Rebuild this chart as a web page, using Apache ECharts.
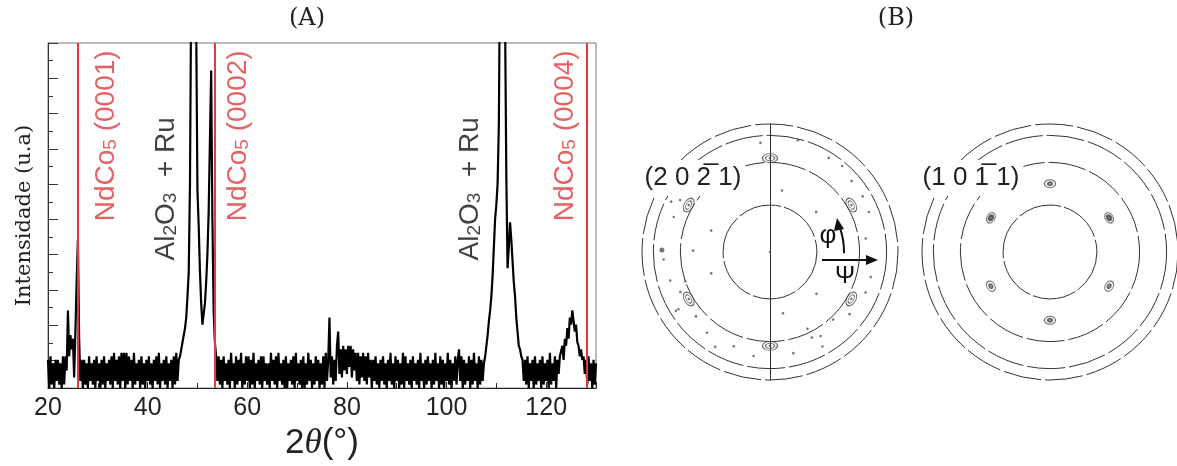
<!DOCTYPE html>
<html><head><meta charset="utf-8">
<script src="https://cdn.jsdelivr.net/npm/echarts@6/dist/echarts.min.js"></script>
<style>html,body{margin:0;padding:0;background:#fff}#c{width:1177px;height:466px}</style>
</head><body><div id="c"></div>
<script>
// ================= DATA =================
// Panel A : XRD pattern, intensity sampled every 0.25 deg from 20 deg
const ANGLE_START = 20;
const ANGLE_STEP = 0.25;
const I_20 = [8,0,9,1, 7,0,8,2, 8,1,7,0, 9,1,9,5, 22,9,15,11, 14,3,16,30, 42,14,2,8, 0,8,1,7, 0,9,2,7, 1,8,0,9];
const I_30 = [2,7,0,8, 1,9,0,7, 2,8,1,9, 0,10,2,8, 1,9,0,10, 2,10,0,10, 1,9,2,8, 0,10,1,7, 2,8,0,9, 1,7,0,8];
const I_40 = [2,9,1,7, 0,8,2,9, 1,10,0,7, 2,8,1,9, 0,7,2,8, 0,9,1,10, 2,8,9,11, 13,15,17,20, 26,33,58,115, 160,170,150,102];
const I_50 = [56,46,33,24, 18,18,24,30, 38,50,70,90, 48,22,13,9, 2,9,1,8, 0,9,2,7, 1,8,0,10, 2,7,0,9, 1,8,2,10, 0,7,1,9];
const I_60 = [2,9,0,8, 1,10,0,7, 2,8,1,9, 0,9,2,7, 1,7,0,10, 2,8,1,9, 0,10,2,7, 1,8,0,9, 0,7,2,8, 1,9,0,10];
const I_70 = [2,7,1,8, 0,9,0,7, 1,10,2,8, 0,7,1,9, 2,8,0,7, 1,9,0,10, 2,8,20,3, 9,1,8,2, 12,16,4,11, 3,12,5,11];
const I_80 = [4,12,6,12, 3,11,5,10, 2,10,1,9, 3,10,2,9, 1,10,3,8, 0,8,2,9, 1,7,0,8, 2,9,1,7, 0,8,2,10, 1,7,0,9];
const I_90 = [2,8,0,7, 1,10,0,9, 2,7,1,8, 0,9,2,7, 1,8,0,10, 2,7,0,8, 1,9,2,7, 0,8,1,10, 2,7,0,9, 1,8,0,7];
const I_100 = [2,10,1,8, 0,7,2,9, 1,8,11,2, 9,0,8,1, 7,2,9,0, 8,1,10,2, 7,0,9,1, 8,2,7,9, 12,15,19,22, 26,32,40,48];
const I_110 = [52,58,75,125, 160,150,125,104, 60,34,40,47, 42,36,30,26, 20,16,12,11, 9,8,2,8, 1,9,0,7, 2,8,0,9, 1,7,2,8, 0,9,1,7];
const I_120 = [2,8,0,10, 1,7,2,9, 0,8,4,9, 9,12,8,14, 12,17,14,20, 18,22,19,16, 18,13,12,9, 11,8,9,4, 8,1,9,2, 7,0,8,1, 7];

const X_MIN = 20, X_MAX = 130, X_INTERVAL = 20;
const Y_MIN = 0, Y_MAX = 97.8, Y_TICK = 10;

// NdCo5 reflections (red lines)
const PHASE_POS = [26.0, 53.4, 128.2];
const PHASE_HKL = ['(0001)', '(0002)', '(0004)'];
// Substrate peaks label
const SUBSTRATE_LABEL_POS = [43.8, 104.8];

// Panel B : pole figures (psi, phi)
const RING_PSI = [33, 63, 82, 90];
const PSI_MAX = 90;
const SPOTS_2021 = [[66,90],[66,30],[66,330],[66,270],[66,210],[66,150]];
const SPOTS_1011 = [[48,90],[48,30],[48,330],[48,270],[48,210],[48,150]];
const DOTS_2021 = [[77,95],[81,76],[78,58],[79,50],[76,41],[76,31],[75,22],[68,8],[73,346],[73,337],
  [71,322],[65,313],[69,301],[67,296],[76,299],[73,283],[74,261],[71,249],[77,240],[72,232],[69,221],
  [76,212],[73,196],[75,184],[72,160],[73,150],[54,179],[44,200],[44,160],[44,282],[44,318],[43,41],
  [44,79],[63,199],[69,204],[78,212],[60,296],[78,153],[0,0]];
const BIG_DOTS_2021 = [[76,179]];

// ================= LAYOUT =================
const GRID_A = {left: 48, right: 581, top: 43, bottom: 73};
const PF_CENTERS = [[770, 252], [1050, 252]];
const PF_RADIUS = 128;
const FIG_LABELS = ['(2 0 2\u0305 1)', '(1 0 1\u0305 1)'];
const LABEL_FONT = '"Liberation Sans", Arial, sans-serif';

const INTENSITY = [].concat(I_20, I_30, I_40, I_50, I_60, I_70, I_80, I_90, I_100, I_110, I_120);
const lineData = INTENSITY.map((v, i) => [ANGLE_START + i * ANGLE_STEP, v]);

const chart = echarts.init(document.getElementById('c'));

// polar systems: rings for each pole figure + 2 half-diameters for the left one
const polar = [], angleAxis = [], radiusAxis = [];
function addPolar(center, radiusPx, rMax, startAngle, showCircle, showRadius, dash) {
  const idx = polar.length;
  polar.push({center: center, radius: radiusPx});
  angleAxis.push({
    polarIndex: idx, type: 'value', min: 0, max: 360, startAngle: startAngle, clockwise: false,
    axisLine: {show: showCircle, lineStyle: {color: '#333', width: 1, type: dash}},
    axisTick: {show: false}, axisLabel: {show: false}, splitLine: {show: false}
  });
  radiusAxis.push({
    polarIndex: idx, type: 'value', min: 0, max: rMax,
    axisLine: {show: showRadius, lineStyle: {color: '#333', width: 1}},
    axisTick: {show: false}, axisLabel: {show: false}, splitLine: {show: false}
  });
  return idx;
}
const outerIdx = [];
PF_CENTERS.forEach((c) => {
  RING_PSI.forEach((psi, k) => {
    const i = addPolar(c, PF_RADIUS * psi / PSI_MAX, psi, 0, true, false, k === 0 ? [44, 3] : [38, 4]);
    if (k === RING_PSI.length - 1) outerIdx.push(i);
  });
});
addPolar(PF_CENTERS[0], PF_RADIUS, PSI_MAX, 90, false, true, 'solid');
addPolar(PF_CENTERS[0], PF_RADIUS, PSI_MAX, 270, false, true, 'solid');

function spotSeries(pIdx, data, size, extra) {
  return Object.assign({
    type: 'scatter', coordinateSystem: 'polar', polarIndex: pIdx, data: data,
    symbol: 'circle', symbolSize: size, symbolRotate: (v) => v[1] - 90,
    itemStyle: {color: 'rgba(255,255,255,0)', borderColor: '#444', borderWidth: 1},
    silent: true, z: 4
  }, extra || {});
}

const redText = {fontFamily: LABEL_FONT, fontSize: 28, color: '#e03a3c'};
const redSub = {fontFamily: LABEL_FONT, fontSize: 19, color: '#e03a3c', verticalAlign: 'bottom', lineHeight: 16};
const blkText = {fontFamily: LABEL_FONT, fontSize: 28, color: '#111'};
const blkSub = {fontFamily: LABEL_FONT, fontSize: 19, color: '#111', verticalAlign: 'bottom', lineHeight: 16};

const annot = [];
const RED_LABEL_X = [31.6, 58.2, 123.8];
PHASE_HKL.forEach((h, i) => annot.push({
  value: [RED_LABEL_X[i], 71.5],
  label: {formatter: '{m|NdCo}{s|5}{m| ' + h + '}'}
}));
SUBSTRATE_LABEL_POS.forEach((x) => annot.push({
  value: [x, 56.5],
  label: {formatter: '{k|Al}{t|2}{k|O}{t|3}{k|  + Ru}'}
}));

const titleStyle = {font: '24px "DejaVu Serif"', fill: '#222', align: 'center', verticalAlign: 'middle', textAlign: 'center', textVerticalAlign: 'middle'};

const option = {
  animation: false,
  backgroundColor: '#fff',
  grid: [Object.assign({show: true, borderColor: '#777', borderWidth: 1}, GRID_A)],
  xAxis: [{
    type: 'value', gridIndex: 0, min: X_MIN, max: X_MAX, interval: X_INTERVAL,
    axisLine: {lineStyle: {color: '#222', width: 1}},
    axisTick: {inside: true, length: 6, lineStyle: {color: '#222'}},
    minorTick: {show: true, splitNumber: 2, length: 5, lineStyle: {color: '#222'}},
    axisLabel: {fontFamily: LABEL_FONT, fontSize: 25, color: '#222', margin: 8, showMaxLabel: false},
    splitLine: {show: false},
    name: '{n|2}{t|\u03b8}{n|(\u00b0)}', nameLocation: 'middle', nameGap: 33,
    nameTextStyle: {rich: {
      n: {fontFamily: LABEL_FONT, fontSize: 35, color: '#222'},
      t: {fontFamily: '"Liberation Serif", serif', fontStyle: 'italic', fontSize: 35, color: '#222'}
    }}
  }],
  yAxis: [
    {type: 'value', gridIndex: 0, min: Y_MIN, max: Y_MAX, show: false},
    {type: 'value', gridIndex: 0, min: Y_MIN, max: Y_MAX, interval: Y_TICK, inverse: true, position: 'left',
      axisLine: {show: true, lineStyle: {color: '#333', width: 1}},
      axisTick: {show: true, inside: true, length: 10, lineStyle: {color: '#333'}},
      minorTick: {show: true, splitNumber: 2, length: 5, lineStyle: {color: '#333'}},
      axisLabel: {show: false}, splitLine: {show: false},
      name: 'Intensidade (u.a)', nameLocation: 'middle', nameGap: 13,
      nameTextStyle: {fontFamily: '"DejaVu Serif", serif', fontSize: 21, color: '#222'}
    }
  ],
  polar: polar, angleAxis: angleAxis, radiusAxis: radiusAxis,
  series: [
    {
      type: 'line', xAxisIndex: 0, yAxisIndex: 0, data: lineData, showSymbol: false, symbol: 'none',
      lineStyle: {color: '#000', width: 2.2}, clip: true, z: 2, silent: true,
      markLine: {
        silent: true, symbol: ['none', 'none'], z: 5,
        label: {show: false},
        lineStyle: {color: '#e03a3c', width: 2, type: 'solid'},
        data: PHASE_POS.map((x) => ({xAxis: x}))
      }
    },
    {
      type: 'scatter', xAxisIndex: 0, yAxisIndex: 0, symbolSize: 0, data: annot, z: 6, silent: true,
      label: {show: true, position: 'inside', rotate: 90,
        rich: {m: redText, s: redSub, k: blkText, t: blkSub}}
    },
    spotSeries(outerIdx[0], SPOTS_2021, [15, 9]),
    spotSeries(outerIdx[0], SPOTS_2021, [9, 5]),
    spotSeries(outerIdx[0], SPOTS_2021, [3, 2], {itemStyle: {color: '#444'}}),
    spotSeries(outerIdx[1], SPOTS_1011, [11, 8]),
    spotSeries(outerIdx[1], SPOTS_1011, [5, 4], {itemStyle: {color: '#666', borderColor: '#444', borderWidth: 1}}),
    {type: 'scatter', coordinateSystem: 'polar', polarIndex: outerIdx[0], data: DOTS_2021,
      symbolSize: 2.6, itemStyle: {color: '#555'}, silent: true, z: 4},
    {type: 'scatter', coordinateSystem: 'polar', polarIndex: outerIdx[0], data: BIG_DOTS_2021,
      symbolSize: 5, itemStyle: {color: '#555'}, silent: true, z: 4}
  ],
  graphic: [
    {type: 'text', x: 307, y: 19, z: 100, style: Object.assign({text: '(A)'}, titleStyle)},
    {type: 'text', x: 896, y: 19, z: 100, style: Object.assign({text: '(B)'}, titleStyle)},
    {type: 'text', x: PF_CENTERS[0][0] - 77, y: PF_CENTERS[0][1] - 74, z: 100, style: {text: FIG_LABELS[0], font: '26px ' + LABEL_FONT, fill: '#222', align: 'center', verticalAlign: 'middle', textAlign: 'center', textVerticalAlign: 'middle', backgroundColor: '#fff', padding: [5, 4]}},
    {type: 'text', x: PF_CENTERS[1][0] - 79, y: PF_CENTERS[1][1] - 74, z: 100, style: {text: FIG_LABELS[1], font: '26px ' + LABEL_FONT, fill: '#222', align: 'center', verticalAlign: 'middle', textAlign: 'center', textVerticalAlign: 'middle', backgroundColor: '#fff', padding: [5, 4]}},
    // psi arrow
    {type: 'line', z: 100, shape: {x1: PF_CENTERS[0][0] + 52, y1: PF_CENTERS[0][1] + 8, x2: PF_CENTERS[0][0] + 100, y2: PF_CENTERS[0][1] + 8}, style: {stroke: '#111', lineWidth: 2}},
    {type: 'polygon', z: 100, shape: {points: [[PF_CENTERS[0][0] + 108, PF_CENTERS[0][1] + 8], [PF_CENTERS[0][0] + 96, PF_CENTERS[0][1] + 3], [PF_CENTERS[0][0] + 96, PF_CENTERS[0][1] + 13]]}, style: {fill: '#111'}},
    // phi arrow
    {type: 'arc', z: 100, shape: {cx: PF_CENTERS[0][0], cy: PF_CENTERS[0][1], r: 74, startAngle: -20 * Math.PI / 180, endAngle: 1 * Math.PI / 180, clockwise: true}, style: {stroke: '#111', lineWidth: 2, fill: null}},
    {type: 'polygon', z: 100, shape: {points: [[PF_CENTERS[0][0] + 67, PF_CENTERS[0][1] - 34], [PF_CENTERS[0][0] + 74, PF_CENTERS[0][1] - 23], [PF_CENTERS[0][0] + 64, PF_CENTERS[0][1] - 21]]}, style: {fill: '#111'}},
    {type: 'text', x: PF_CENTERS[0][0] + 58, y: PF_CENTERS[0][1] - 16, z: 100, style: {text: '\u03c6', font: '26px ' + LABEL_FONT, fill: '#111', align: 'center', verticalAlign: 'middle', textAlign: 'center', textVerticalAlign: 'middle'}},
    {type: 'text', x: PF_CENTERS[0][0] + 75, y: PF_CENTERS[0][1] + 24, z: 100, style: {text: '\u03a8', font: '24px ' + LABEL_FONT, fill: '#111', align: 'center', verticalAlign: 'middle', textAlign: 'center', textVerticalAlign: 'middle'}}
  ]
};
chart.setOption(option);
</script>
</body></html>
